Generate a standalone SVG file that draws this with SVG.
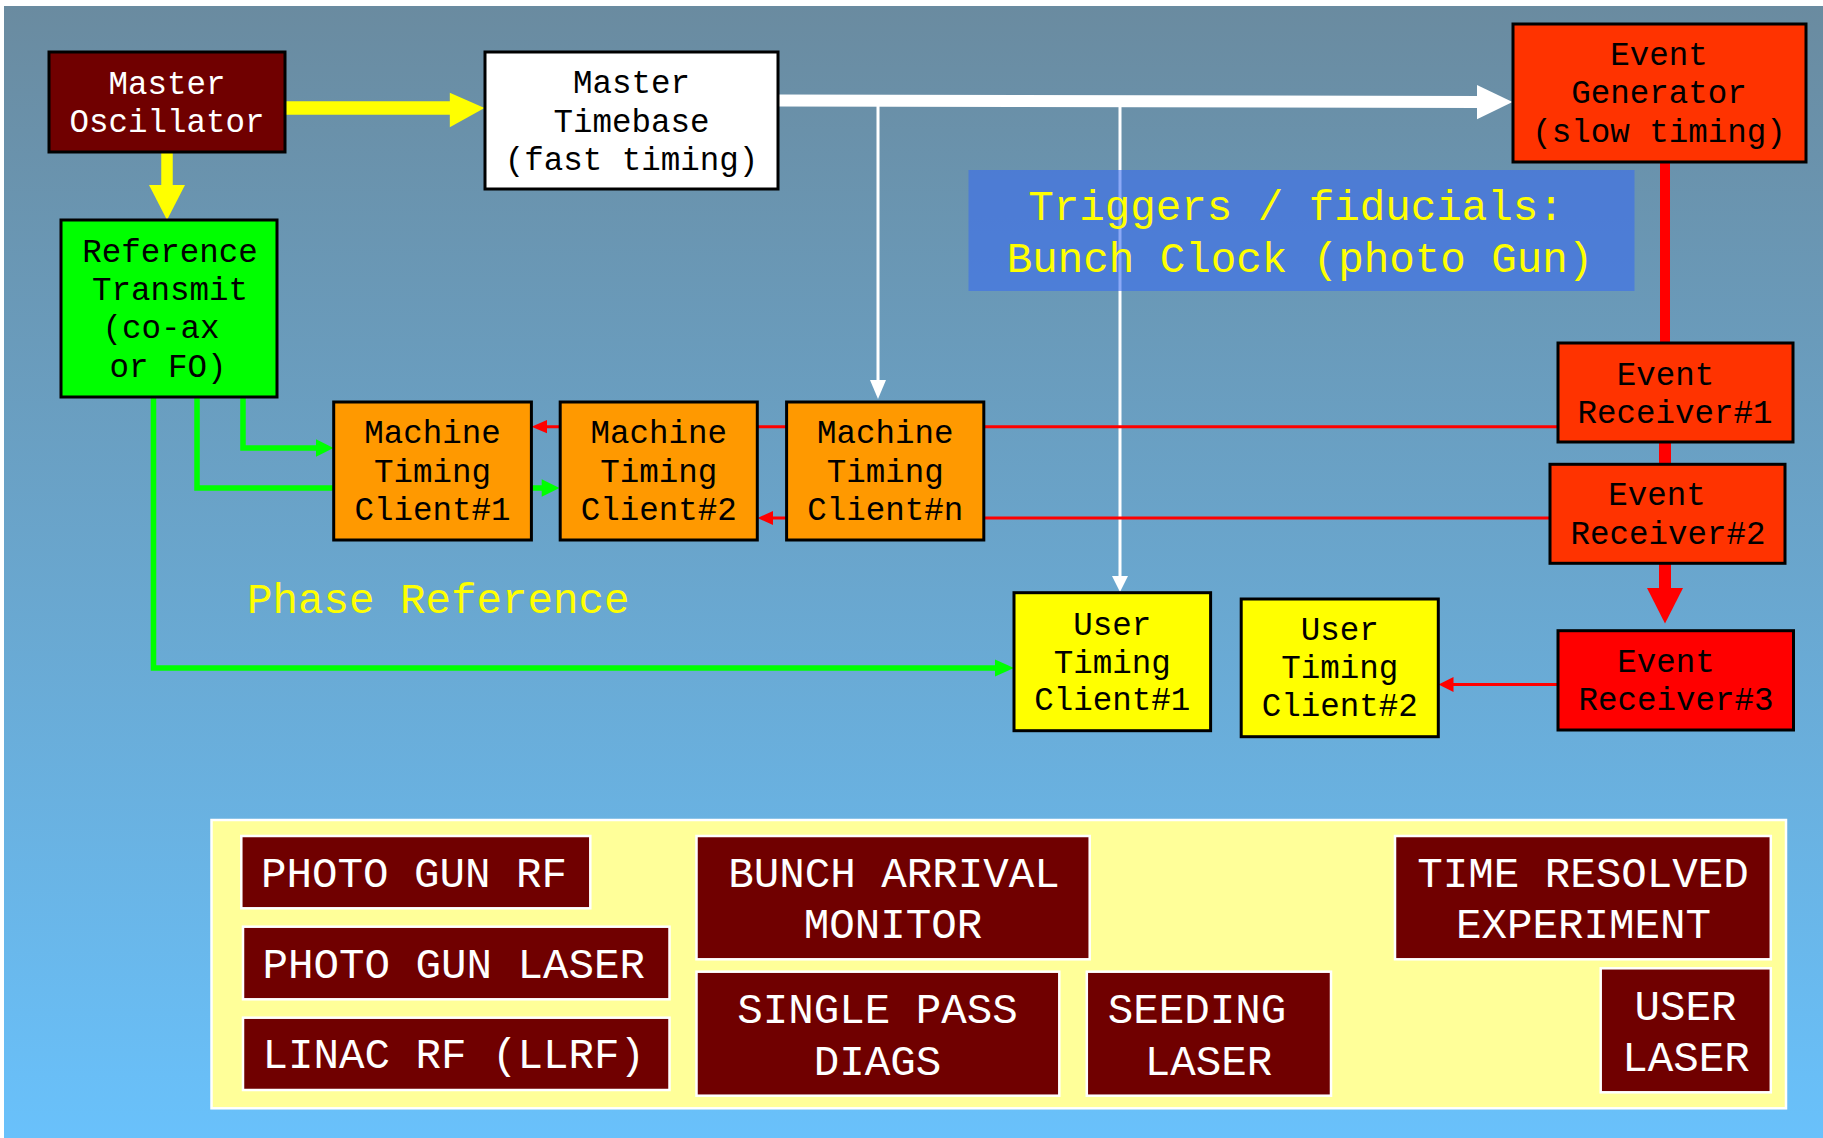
<svg xmlns="http://www.w3.org/2000/svg" width="1823" height="1138" viewBox="0 0 1823 1138">
<defs>
<linearGradient id="bg" x1="0" y1="0" x2="0" y2="1">
<stop offset="0" stop-color="#6a8ba0"/>
<stop offset="1" stop-color="#69c1fb"/>
</linearGradient>
<style>
text{font-family:"Liberation Mono","DejaVu Sans Mono",monospace;}
.n{font-size:32.5px;text-anchor:middle;fill:#000;}
.w{fill:#fff;}
.big{font-size:42.5px;}
.y{fill:#ffff00;}
.box{stroke:#000;stroke-width:3;}
.bb{fill:#700000;stroke:#fff;stroke-width:2.5;}
.bt{font-size:42.5px;fill:#fff;}
.mid{text-anchor:middle;}
.g{fill:none;stroke:#00ff00;stroke-width:5.5;}
.gh{fill:#00ff00;}
.r{fill:none;stroke:#ff0000;stroke-width:3;}
.rh{fill:#ff0000;}
</style>
</defs>
<rect x="0" y="0" width="1823" height="1138" fill="#ffffff"/>
<rect x="4" y="6" width="1819" height="1132" fill="url(#bg)"/>

<g id="connectors">
<line x1="285" y1="108" x2="451" y2="108" stroke="#ffff00" stroke-width="13.5"/>
<polygon points="449.8,92.7 484.5,108 449.8,127.3" fill="#ffff00"/>
<line x1="167" y1="152" x2="167" y2="187" stroke="#ffff00" stroke-width="11.5"/>
<polygon points="149,185 185,185 167,220" fill="#ffff00"/>
<line x1="778" y1="100.5" x2="1479" y2="102" stroke="#ffffff" stroke-width="12"/>
<polygon points="1477,85 1512.5,102 1477,119.3" fill="#ffffff"/>
<line x1="878" y1="106" x2="878" y2="383" stroke="#ffffff" stroke-width="3"/>
<polygon points="870,380 886,380 878,399" fill="#ffffff"/>
<line x1="1120" y1="106" x2="1120" y2="579" stroke="#ffffff" stroke-width="3"/>
<polygon points="1112,576 1128,576 1120,592" fill="#ffffff"/>
<line x1="1665" y1="162" x2="1665" y2="343" stroke="#ff0000" stroke-width="10"/>
<line x1="1665" y1="442" x2="1665" y2="465" stroke="#ff0000" stroke-width="12"/>
<line x1="1665" y1="563" x2="1665" y2="590" stroke="#ff0000" stroke-width="12"/>
<polygon points="1647,588 1683,588 1665,623.5" fill="#ff0000"/>
<line class="r" x1="1558" y1="426.7" x2="546" y2="426.7"/>
<polygon class="rh" points="547,420 531.5,426.7 547,433.3"/>
<line class="r" x1="1550" y1="518" x2="772" y2="518"/>
<polygon class="rh" points="773,511 757.5,518 773,525"/>
<line class="r" x1="1558" y1="684.5" x2="1452" y2="684.5"/>
<polygon class="rh" points="1453.5,677 1438.5,684.5 1453.5,692"/>
<polyline class="g" points="153.5,397 153.5,668 997,668"/>
<polygon class="gh" points="995,659.5 1014,668 995,676.5"/>
<polyline class="g" points="197,397 197,488 543,488"/>
<polygon class="gh" points="541.7,479.3 559.5,488 541.7,496.7"/>
<polyline class="g" points="243,397 243,448 317,448"/>
<polygon class="gh" points="316,439.3 333.5,448 316,456.7"/>
</g>

<g id="triggers-label">
<rect x="968.5" y="170" width="666" height="121" fill="rgb(56,106,240)" fill-opacity="0.58"/>
<text class="big y mid" x="1296" y="220">Triggers / fiducials:</text>
<text class="big y mid" x="1300" y="271.7">Bunch Clock (photo Gun)</text>
</g>

<g id="phase-reference-label">
<text class="big y" x="247" y="613.3">Phase Reference</text>
</g>

<g id="master-oscillator">
<rect class="box" x="49" y="52" width="236" height="100" fill="#700000"/>
<text class="n w" x="167" y="94">Master</text>
<text class="n w" x="167" y="131.7">Oscillator</text>
</g>

<g id="master-timebase">
<rect class="box" x="485" y="52" width="293" height="137" fill="#ffffff"/>
<text class="n" x="631.5" y="93.3">Master</text>
<text class="n" x="631.5" y="131.7">Timebase</text>
<text class="n" x="631.5" y="170">(fast timing)</text>
</g>

<g id="reference-transmit">
<rect class="box" x="61" y="220" width="216" height="177" fill="#00ff00"/>
<text class="n" x="170" y="261.7">Reference</text>
<text class="n" x="170" y="300">Transmit</text>
<text class="n" x="161" y="338">(co-ax</text>
<text class="n" x="168" y="376.7">or FO)</text>
</g>

<g id="event-generator">
<rect class="box" x="1513" y="24" width="293" height="138" fill="#ff3300"/>
<text class="n" x="1659" y="65">Event</text>
<text class="n" x="1659" y="103.3">Generator</text>
<text class="n" x="1659" y="141.7">(slow timing)</text>
</g>

<g id="event-receiver-1">
<rect class="box" x="1558" y="343" width="235" height="99" fill="#ff3300"/>
<text class="n" x="1665.5" y="385">Event</text>
<text class="n" x="1675" y="422.7">Receiver#1</text>
</g>

<g id="event-receiver-2">
<rect class="box" x="1550" y="464.3" width="235" height="99" fill="#ff3300"/>
<text class="n" x="1657" y="505">Event</text>
<text class="n" x="1668" y="544.3">Receiver#2</text>
</g>

<g id="event-receiver-3">
<rect class="box" x="1558" y="630.7" width="235.5" height="99.3" fill="#ff0000"/>
<text class="n" x="1666" y="672.3">Event</text>
<text class="n" x="1676" y="710">Receiver#3</text>
</g>

<g id="machine-timing-client-1">
<rect class="box" x="333.7" y="402" width="197.7" height="138" fill="#ff9900"/>
<text class="n" x="432.5" y="443.3">Machine</text>
<text class="n" x="432.5" y="481.7">Timing</text>
<text class="n" x="432.5" y="520">Client#1</text>
</g>

<g id="machine-timing-client-2">
<rect class="box" x="560.2" y="402" width="197.1" height="138" fill="#ff9900"/>
<text class="n" x="658.8" y="443.3">Machine</text>
<text class="n" x="658.8" y="481.7">Timing</text>
<text class="n" x="658.8" y="520">Client#2</text>
</g>

<g id="machine-timing-client-n">
<rect class="box" x="786.6" y="402" width="197.2" height="138" fill="#ff9900"/>
<text class="n" x="885.2" y="443.3">Machine</text>
<text class="n" x="885.2" y="481.7">Timing</text>
<text class="n" x="885.2" y="520">Client#n</text>
</g>

<g id="user-timing-client-1">
<rect class="box" x="1014" y="592.7" width="196.6" height="138" fill="#ffff00"/>
<text class="n" x="1112.3" y="635">User</text>
<text class="n" x="1112.3" y="673.3">Timing</text>
<text class="n" x="1112.3" y="710">Client#1</text>
</g>

<g id="user-timing-client-2">
<rect class="box" x="1241.2" y="599" width="197.1" height="137.7" fill="#ffff00"/>
<text class="n" x="1339.7" y="640">User</text>
<text class="n" x="1339.7" y="678.3">Timing</text>
<text class="n" x="1339.7" y="716">Client#2</text>
</g>

<g id="systems-panel">
<rect x="211.5" y="820" width="1574.5" height="288.3" fill="#ffff99" stroke="#ffffff" stroke-width="2.5"/>
</g>

<g id="photo-gun-rf">
<rect class="bb" x="241.3" y="836" width="349" height="72.3"/>
<text class="bt" x="261" y="887.3">PHOTO GUN RF</text>
</g>
<g id="photo-gun-laser">
<rect class="bb" x="243" y="926.7" width="426.5" height="72.6"/>
<text class="bt" x="262.5" y="977.7">PHOTO GUN LASER</text>
</g>
<g id="linac-rf">
<rect class="bb" x="243" y="1017.7" width="426.5" height="72.3"/>
<text class="bt" x="262.5" y="1068.3">LINAC RF (LLRF)</text>
</g>
<g id="bunch-arrival-monitor">
<rect class="bb" x="696.5" y="836" width="393.2" height="123.3"/>
<text class="bt mid" x="894" y="887.3">BUNCH ARRIVAL</text>
<text class="bt mid" x="893" y="938.3">MONITOR</text>
</g>
<g id="single-pass-diags">
<rect class="bb" x="696.5" y="971.7" width="362.8" height="124"/>
<text class="bt mid" x="877.5" y="1022.7">SINGLE PASS</text>
<text class="bt mid" x="877.5" y="1075">DIAGS</text>
</g>
<g id="seeding-laser">
<rect class="bb" x="1086.8" y="971.7" width="244.2" height="124"/>
<text class="bt mid" x="1197" y="1022.7">SEEDING</text>
<text class="bt mid" x="1208.5" y="1075">LASER</text>
</g>
<g id="time-resolved-experiment">
<rect class="bb" x="1395" y="836" width="375.8" height="123.3"/>
<text class="bt mid" x="1583" y="887.3">TIME RESOLVED</text>
<text class="bt mid" x="1583.5" y="938.3">EXPERIMENT</text>
</g>
<g id="user-laser">
<rect class="bb" x="1600.7" y="968.3" width="170.1" height="124"/>
<text class="bt mid" x="1685.5" y="1020">USER</text>
<text class="bt mid" x="1686" y="1070.7">LASER</text>
</g>
</svg>
